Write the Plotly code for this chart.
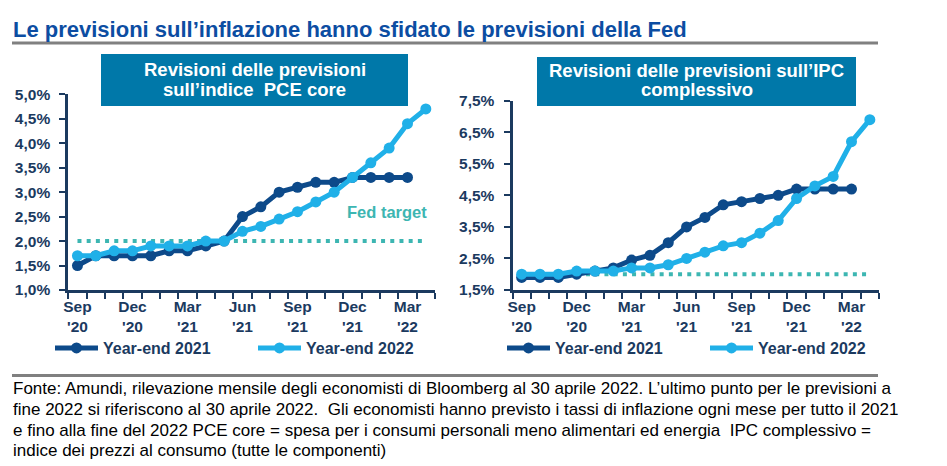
import plotly.graph_objects as go

# The page adds an 8px body margin; the figure is sized so it fits the 947x466 window.
OFF = 8
W, H = 947 - OFF, 466 - OFF

months = ["Sep 20","Oct 20","Nov 20","Dec 20","Jan 21","Feb 21","Mar 21","Apr 21","May 21","Jun 21",
          "Jul 21","Aug 21","Sep 21","Oct 21","Nov 21","Dec 21","Jan 22","Feb 22","Mar 22","Apr 22"]
x_idx = list(range(len(months)))

tick_pos = [0, 3, 6, 9, 12, 15, 18]
tick_text = ["Sep<br>'20", "Dec<br>'20", "Mar<br>'21", "Jun<br>'21", "Sep<br>'21", "Dec<br>'21", "Mar<br>'22"]

pce_2021 = [1.5, 1.7, 1.7, 1.7, 1.7, 1.8, 1.8, 1.9, 2.0, 2.5, 2.7, 3.0, 3.1, 3.2, 3.2, 3.3, 3.3, 3.3, 3.3]
pce_2022 = [1.7, 1.7, 1.8, 1.8, 1.9, 1.9, 1.9, 2.0, 2.0, 2.2, 2.3, 2.45, 2.6, 2.8, 3.0, 3.3, 3.6, 3.9, 4.4, 4.7]
cpi_2021 = [1.9, 1.9, 1.9, 2.0, 2.1, 2.2, 2.45, 2.6, 3.0, 3.5, 3.8, 4.2, 4.3, 4.4, 4.5, 4.7, 4.7, 4.7, 4.7]
cpi_2022 = [2.0, 2.0, 2.0, 2.1, 2.1, 2.1, 2.2, 2.2, 2.3, 2.5, 2.7, 2.9, 3.0, 3.3, 3.7, 4.4, 4.8, 5.1, 6.2, 6.9]
fed_target = 2.0

pce_ticks = [1.0, 1.5, 2.0, 2.5, 3.0, 3.5, 4.0, 4.5, 5.0]
pce_tick_text = ["1,0%", "1,5%", "2,0%", "2,5%", "3,0%", "3,5%", "4,0%", "4,5%", "5,0%"]
cpi_ticks = [1.5, 2.5, 3.5, 4.5, 5.5, 6.5, 7.5]
cpi_tick_text = ["1,5%", "2,5%", "3,5%", "4,5%", "5,5%", "6,5%", "7,5%"]

title_text = "Le previsioni sull’inflazione hanno sfidato le previsioni della Fed"
left_title_lines = ["Revisioni delle previsioni", "sull’indice  PCE core"]
right_title_lines = ["Revisioni delle previsioni sull’IPC", "complessivo"]
footnote_lines = [
    "Fonte: Amundi, rilevazione mensile degli economisti di Bloomberg al 30 aprile 2022. L’ultimo punto per le previsioni a",
    "fine 2022 si riferiscono al 30 aprile 2022.  Gli economisti hanno previsto i tassi di inflazione ogni mese per tutto il 2021",
    "e fino alla fine del 2022 PCE core = spesa per i consumi personali meno alimentari ed energia  IPC complessivo =",
    "indice dei prezzi al consumo (tutte le componenti)",
]

DARK = "#0D4A8A"
LIGHT = "#20B0E8"
TEAL = "#3DB6B2"
NAVY = "#1B3A5F"
BOX = "#0078A9"
FONT = "Liberation Sans, Arial, sans-serif"

fig = go.Figure()

def add_series(xa, ya, y21, y22, legend):
    fig.add_trace(go.Scatter(x=x_idx, y=[fed_target] * len(x_idx), xaxis=xa, yaxis=ya, mode="lines",
                             line=dict(color=TEAL, width=4, dash="4px,5.2px"), showlegend=False, hoverinfo="skip"))
    fig.add_trace(go.Scatter(x=x_idx[:len(y21)], y=y21, xaxis=xa, yaxis=ya, mode="lines+markers",
                             name="Year-end 2021", legend=legend,
                             line=dict(color=DARK, width=5), marker=dict(color=DARK, size=11)))
    fig.add_trace(go.Scatter(x=x_idx[:len(y22)], y=y22, xaxis=xa, yaxis=ya, mode="lines+markers",
                             name="Year-end 2022", legend=legend,
                             line=dict(color=LIGHT, width=5), marker=dict(color=LIGHT, size=11)))

add_series("x", "y", pce_2021, pce_2022, "legend")
add_series("x2", "y2", cpi_2021, cpi_2022, "legend2")

def px_x(p):
    return (p - OFF) / W

def px_y(p):
    return 1 - (p - OFF) / H

tickfont = dict(family=FONT, size=15.5, color=NAVY, weight="bold")

xaxis_common = dict(range=[-0.5, 19.5], tickvals=tick_pos, ticktext=tick_text, ticks="",
                    showline=True, linewidth=3, linecolor=NAVY, showgrid=False, zeroline=False,
                    tickfont=tickfont, fixedrange=True, automargin=False,
                    minor=dict(tick0=-0.5, dtick=1, ticks="outside", ticklen=6, tickwidth=2, tickcolor=NAVY,
                               showgrid=False))
yaxis_common = dict(showline=True, linewidth=3, linecolor=NAVY, showgrid=False, zeroline=False,
                    ticks="outside", ticklen=6, tickwidth=2, tickcolor=NAVY, tickfont=tickfont,
                    ticklabelstandoff=6, fixedrange=True, automargin=False)

legend_common = dict(orientation="h", xanchor="left", yanchor="middle",
                     font=dict(family=FONT, size=16, color=NAVY, weight="bold"),
                     entrywidth=145, itemwidth=43, bgcolor="rgba(0,0,0,0)", itemclick=False)

fig.update_layout(
    width=W, height=H,
    margin=dict(l=0, r=0, t=0, b=0, pad=0, autoexpand=False),
    paper_bgcolor="white", plot_bgcolor="white",
    font=dict(family=FONT),
    xaxis=dict(domain=[px_x(68.3), px_x(435)], anchor="y", **xaxis_common),
    yaxis=dict(domain=[px_y(290), px_y(94.3)], anchor="x", range=[1.0, 5.0],
               tickvals=pce_ticks, ticktext=pce_tick_text, **yaxis_common),
    xaxis2=dict(domain=[px_x(512.5), px_x(879)], anchor="y2", **xaxis_common),
    yaxis2=dict(domain=[px_y(290), px_y(100.7)], anchor="x2", range=[1.5, 7.5],
                tickvals=cpi_ticks, ticktext=cpi_tick_text, **yaxis_common),
    legend=dict(x=px_x(50), y=px_y(348), **legend_common),
    legend2=dict(x=px_x(502), y=px_y(348), **legend_common),
    showlegend=True,
)

shapes = [
    dict(type="line", xref="paper", yref="paper", x0=px_x(12), x1=px_x(878), y0=px_y(43), y1=px_y(43),
         line=dict(color="#808080", width=3)),
    dict(type="line", xref="paper", yref="paper", x0=px_x(12), x1=px_x(878), y0=px_y(375.5), y1=px_y(375.5),
         line=dict(color="#808080", width=3)),
    dict(type="rect", xref="paper", yref="paper", x0=px_x(101), x1=px_x(408), y0=px_y(106), y1=px_y(54),
         fillcolor=BOX, line=dict(width=0), layer="above"),
    dict(type="rect", xref="paper", yref="paper", x0=px_x(537), x1=px_x(856), y0=px_y(106), y1=px_y(57),
         fillcolor=BOX, line=dict(width=0), layer="above"),
]
fig.update_layout(shapes=shapes)

def ann(text, xp, yp, size, color, anchor="center", bold=True):
    return dict(text=text, xref="paper", yref="paper", x=px_x(xp), y=px_y(yp), xanchor=anchor,
                yanchor="middle", showarrow=False,
                font=dict(family=FONT, size=size, color=color, weight="bold" if bold else "normal"))

annotations = [ann(title_text, 11, 29, 22, "#0C4DA2", anchor="left")]
for txt, yy in zip(left_title_lines, [70, 89.5]):
    annotations.append(ann(txt, 254.5, yy, 18.5, "white"))
for txt, yy in zip(right_title_lines, [71, 89.5]):
    annotations.append(ann(txt, 696.5, yy, 18.5, "white"))
for txt, yy in zip(footnote_lines, [388, 409, 430, 450]):
    annotations.append(ann(txt, 11, yy, 17, "black", anchor="left", bold=False))
annotations.append(dict(text="Fed target", xref="x", yref="y", x=16.9, y=2.6, xanchor="center",
                        yanchor="middle", showarrow=False,
                        font=dict(family=FONT, size=16.5, color=TEAL, weight="bold")))
fig.update_layout(annotations=annotations)

fig.write_html("out.html")
